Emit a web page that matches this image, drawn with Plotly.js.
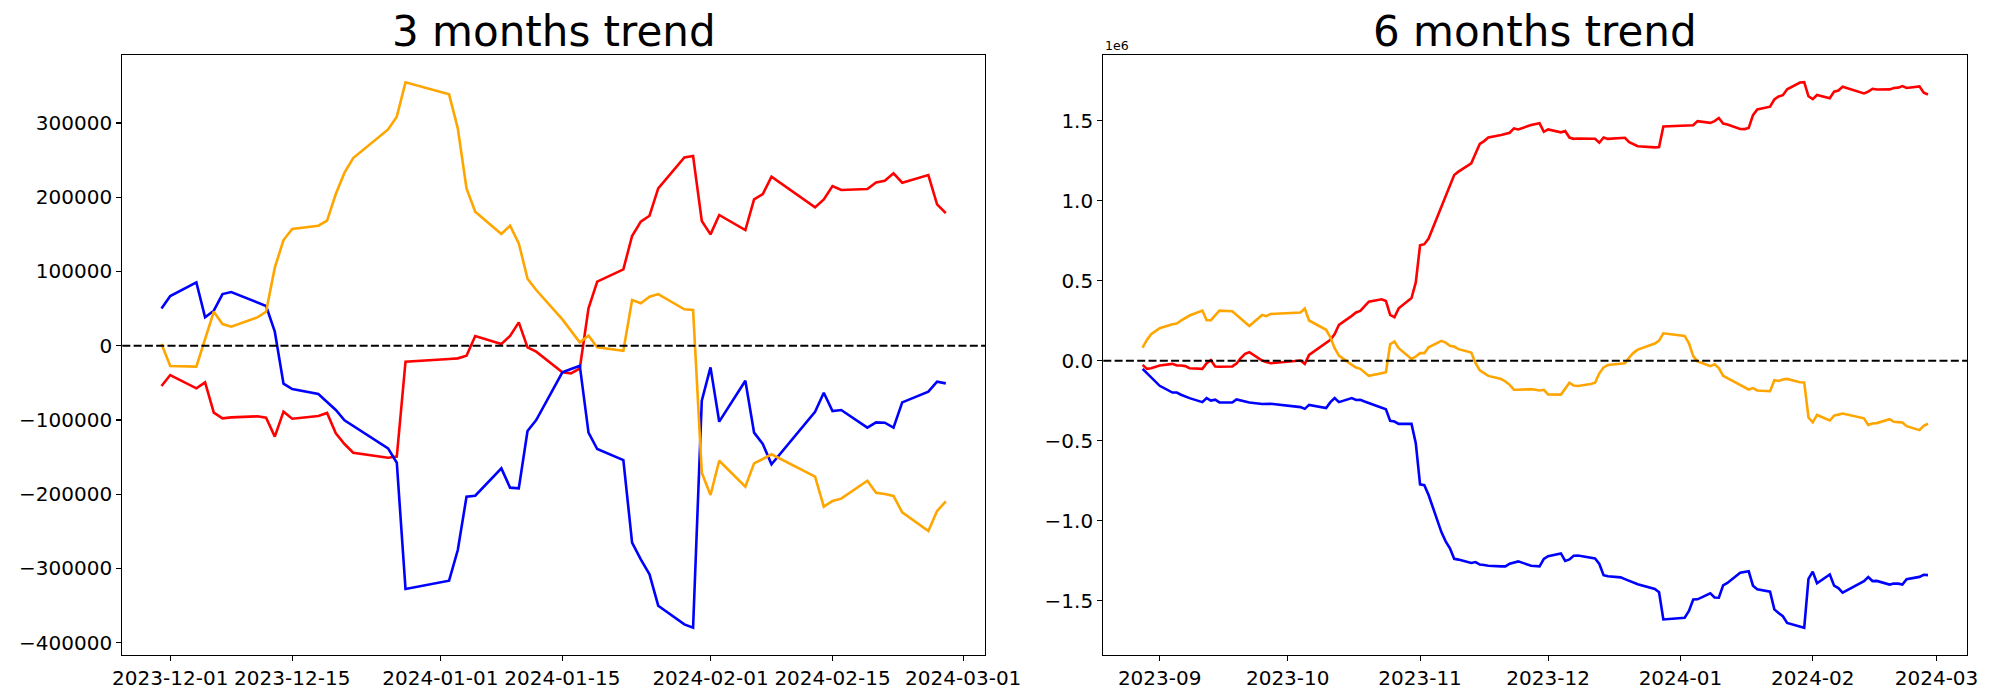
<!DOCTYPE html>
<html>
<head>
<meta charset="utf-8">
<script src="https://cdn.plot.ly/plotly-3.0.1.min.js"></script>
<style>html,body{margin:0;padding:0;background:#fff;}#chart{width:2000px;height:700px;}</style>
</head>
<body>
<div id="chart"></div>
<script>
// ---------- 3 months (values in KRW units as plotted) ----------
const dates3m = ['2023-11-30','2023-12-01','2023-12-04','2023-12-05','2023-12-06','2023-12-07','2023-12-08','2023-12-11','2023-12-12','2023-12-13','2023-12-14','2023-12-15','2023-12-18','2023-12-19','2023-12-20','2023-12-21','2023-12-22','2023-12-26','2023-12-27','2023-12-28','2024-01-02','2024-01-03','2024-01-04','2024-01-05','2024-01-08','2024-01-09','2024-01-10','2024-01-11','2024-01-12','2024-01-15','2024-01-16','2024-01-17','2024-01-18','2024-01-19','2024-01-22','2024-01-23','2024-01-24','2024-01-25','2024-01-26','2024-01-29','2024-01-30','2024-01-31','2024-02-01','2024-02-02','2024-02-05','2024-02-06','2024-02-07','2024-02-08','2024-02-13','2024-02-14','2024-02-15','2024-02-16','2024-02-19','2024-02-20','2024-02-21','2024-02-22','2024-02-23','2024-02-26','2024-02-27','2024-02-28'];

const red3m = [-54300,-39500,-57400,-49300,-90200,-97800,-96500,-95100,-96900,-122500,-88800,-98300,-94700,-90600,-118000,-132400,-144100,-150800,-149400,-21500,-17900,-17000,-13400,13100,2300,13100,31500,-2200,-8000,-35900,-37200,-30500,50300,86300,102900,147800,167100,175100,212000,253700,255500,168000,150000,176100,155800,197100,204300,227700,186400,197100,215100,209700,211100,220000,222300,232200,219600,229900,190400,178700];
const blue3m = [50300,66900,85300,38200,47200,69600,72300,58000,53500,18900,-51100,-58300,-65100,-75800,-86600,-100500,-108200,-138200,-157600,-327700,-316500,-275200,-203400,-202000,-165200,-191200,-192100,-114900,-100100,-35900,-31400,-26900,-117100,-139100,-154000,-265300,-287800,-308000,-350200,-375300,-379800,-74000,-29200,-102300,-47100,-117100,-132400,-159800,-88900,-63300,-88000,-86600,-110400,-103200,-103700,-110400,-76300,-61900,-48500,-50700];
const orange3m = [2300,-27300,-28200,10000,45800,29200,25600,38200,45800,105100,142400,157200,161700,168400,204300,233100,252800,291400,308500,354800,338600,292800,212000,180500,150500,161700,137900,90300,75000,35500,20200,4500,13500,-2200,-6700,61600,57100,66000,69600,49000,48100,-171000,-201100,-154900,-189900,-158500,-152600,-146300,-176400,-216800,-209200,-206000,-181800,-198000,-199700,-202400,-224500,-249600,-222700,-209700];

// ---------- 6 months (values in units of 1e6) ----------
const dates6mEarly = ['2023-08-28','2023-08-29','2023-08-30','2023-08-31','2023-09-01','2023-09-04','2023-09-05','2023-09-06','2023-09-07','2023-09-08','2023-09-11','2023-09-12','2023-09-13','2023-09-14','2023-09-15','2023-09-18','2023-09-19','2023-09-20','2023-09-21','2023-09-22','2023-09-25','2023-09-26','2023-09-27','2023-10-04','2023-10-05','2023-10-06','2023-10-10','2023-10-11','2023-10-12','2023-10-13','2023-10-16','2023-10-17','2023-10-18','2023-10-19','2023-10-20','2023-10-23','2023-10-24','2023-10-25','2023-10-26','2023-10-27','2023-10-30','2023-10-31','2023-11-01','2023-11-02','2023-11-03','2023-11-06','2023-11-07','2023-11-08','2023-11-09','2023-11-10','2023-11-13','2023-11-14','2023-11-15','2023-11-16','2023-11-17','2023-11-20','2023-11-21','2023-11-22','2023-11-23','2023-11-24','2023-11-27','2023-11-28','2023-11-29'];
const dates6m = dates6mEarly.concat(dates3m);

const red6m = [-0.025,-0.050,-0.046,-0.035,-0.029,-0.019,-0.029,-0.029,-0.033,-0.046,-0.050,-0.015,0.004,-0.035,-0.037,-0.035,-0.017,0.017,0.044,0.054,0.002,-0.008,-0.015,0.002,-0.019,0.037,0.110,0.131,0.167,0.225,0.281,0.302,0.312,0.343,0.370,0.385,0.374,0.287,0.272,0.328,0.392,0.490,0.722,0.729,0.764,0.963,1.030,1.099,1.161,1.182,1.234,1.296,1.355,1.373,1.396,1.411,1.419,1.425,1.452,1.446,1.473,1.477,1.484,
  1.431,1.446,1.428,1.436,1.395,1.387,1.389,1.390,1.388,1.363,1.396,1.387,1.390,1.394,1.367,1.353,1.341,1.334,1.336,1.464,1.467,1.468,1.472,1.498,1.487,1.498,1.517,1.483,1.477,1.449,1.448,1.455,1.535,1.571,1.588,1.633,1.652,1.660,1.697,1.739,1.741,1.653,1.635,1.661,1.641,1.682,1.689,1.713,1.671,1.682,1.700,1.695,1.696,1.705,1.707,1.717,1.705,1.715,1.675,1.664];
const blue6m = [-0.050,-0.077,-0.108,-0.133,-0.156,-0.198,-0.198,-0.212,-0.225,-0.233,-0.258,-0.233,-0.248,-0.243,-0.260,-0.260,-0.241,-0.248,-0.254,-0.260,-0.270,-0.270,-0.268,-0.289,-0.300,-0.275,-0.295,-0.258,-0.233,-0.258,-0.233,-0.245,-0.243,-0.254,-0.264,-0.291,-0.303,-0.375,-0.379,-0.394,-0.394,-0.514,-0.772,-0.777,-0.838,-1.070,-1.128,-1.171,-1.237,-1.242,-1.263,-1.257,-1.273,-1.276,-1.280,-1.284,-1.284,-1.267,-1.259,-1.253,-1.280,-1.284,-1.284,
  -1.238,-1.221,-1.203,-1.250,-1.241,-1.218,-1.216,-1.230,-1.235,-1.269,-1.339,-1.346,-1.353,-1.364,-1.375,-1.389,-1.396,-1.426,-1.446,-1.616,-1.605,-1.563,-1.491,-1.490,-1.453,-1.479,-1.480,-1.403,-1.388,-1.324,-1.319,-1.315,-1.405,-1.427,-1.442,-1.553,-1.576,-1.596,-1.638,-1.663,-1.668,-1.362,-1.317,-1.390,-1.335,-1.405,-1.420,-1.448,-1.377,-1.351,-1.376,-1.375,-1.398,-1.391,-1.392,-1.398,-1.364,-1.350,-1.337,-1.339];
const orange6m = [0.083,0.131,0.167,0.187,0.204,0.229,0.233,0.252,0.270,0.283,0.314,0.254,0.254,0.287,0.314,0.310,0.287,0.262,0.235,0.218,0.287,0.279,0.293,0.302,0.327,0.252,0.194,0.146,0.079,0.033,-0.025,-0.042,-0.050,-0.071,-0.094,-0.077,-0.071,0.104,0.121,0.079,0.012,0.027,0.048,0.048,0.085,0.125,0.114,0.094,0.089,0.073,0.052,-0.015,-0.060,-0.077,-0.094,-0.114,-0.129,-0.150,-0.181,-0.181,-0.177,-0.181,-0.185,
  -0.181,-0.210,-0.211,-0.173,-0.137,-0.154,-0.157,-0.145,-0.137,-0.078,-0.041,-0.026,-0.021,-0.015,0.021,0.050,0.070,0.108,0.126,0.172,0.156,0.110,0.029,-0.003,-0.033,-0.021,-0.045,-0.093,-0.108,-0.148,-0.163,-0.179,-0.170,-0.185,-0.190,-0.121,-0.126,-0.117,-0.113,-0.134,-0.135,-0.354,-0.384,-0.338,-0.373,-0.342,-0.336,-0.329,-0.359,-0.400,-0.392,-0.389,-0.365,-0.381,-0.383,-0.385,-0.408,-0.433,-0.406,-0.393];

// ---------- ticks & titles ----------
const leftXTicks = ['2023-12-01','2023-12-15','2024-01-01','2024-01-15','2024-02-01','2024-02-15','2024-03-01'];
const leftYTicks = [-400000,-300000,-200000,-100000,0,100000,200000,300000];
const rightXTicks = ['2023-09-01','2023-10-01','2023-11-01','2023-12-01','2024-01-01','2024-02-01','2024-03-01'];
const rightYTicks = [-1.5,-1.0,-0.5,0,0.5,1.0,1.5];
const titles = ['3 months trend','6 months trend'];
const offsetLabel = '1e6';

const FONT = 'DejaVu Sans, Verdana, sans-serif';
const colors = {red:'#ff0000', blue:'#0000ff', orange:'#ffa500'};
const lw = 2.6;

function tr(x, y, c, xa, ya){
  return {x:x, y:y, type:'scatter', mode:'lines', line:{color:c, width:lw},
          xaxis:xa, yaxis:ya, hoverinfo:'skip', showlegend:false};
}

const data = [
  tr(dates3m, red3m, colors.red, 'x', 'y'),
  tr(dates3m, blue3m, colors.blue, 'x', 'y'),
  tr(dates3m, orange3m, colors.orange, 'x', 'y'),
  tr(dates6m, red6m, colors.red, 'x2', 'y2'),
  tr(dates6m, blue6m, colors.blue, 'x2', 'y2'),
  tr(dates6m, orange6m, colors.orange, 'x2', 'y2')
];

const yDom = [1 - 655/700, 1 - 55/700];
const axCommon = {
  showline:true, linecolor:'black', linewidth:1.1, mirror:true,
  ticks:'outside', ticklen:5, tickwidth:1.1, tickcolor:'black',
  showgrid:false, zeroline:false,
  tickfont:{family:FONT, size:20, color:'black'}
};

const layout = {
  width:2000, height:700,
  margin:{l:0, r:0, t:0, b:0, pad:0},
  paper_bgcolor:'white', plot_bgcolor:'white',
  showlegend:false,
  font:{family:FONT, color:'black'},
  xaxis: Object.assign({}, axCommon, {
    domain:[122.3/2000, 985/2000], anchor:'y', type:'date',
    range:['2023-11-25 12:00','2024-03-03 12:00'],
    tickmode:'array', tickvals:leftXTicks, ticktext:leftXTicks
  }),
  yaxis: Object.assign({}, axCommon, {
    domain:yDom, anchor:'x',
    range:[-416600, 391600],
    tickmode:'array', tickvals:leftYTicks, tickformat:'d'
  }),
  xaxis2: Object.assign({}, axCommon, {
    domain:[1103.3/2000, 1967.3/2000], anchor:'y2', type:'date',
    range:['2023-08-18 19:00','2024-03-08 05:00'],
    tickmode:'array', tickvals:rightXTicks, tickformat:'%Y-%m'
  }),
  yaxis2: Object.assign({}, axCommon, {
    domain:yDom, anchor:'x2',
    range:[-1.838, 1.911],
    tickmode:'array', tickvals:rightYTicks, tickformat:'.1f'
  }),
  shapes:[
    {type:'line', xref:'x domain', yref:'y', x0:0, x1:1, y0:0, y1:0, layer:'above',
     line:{color:'black', width:2, dash:'8px,3.3px'}},
    {type:'line', xref:'x2 domain', yref:'y2', x0:0, x1:1, y0:0, y1:0, layer:'above',
     line:{color:'black', width:2, dash:'8px,3.3px'}}
  ],
  annotations:[
    {text:titles[0], xref:'paper', yref:'paper', x:553.7/2000, y:0.917, xanchor:'center', yanchor:'bottom',
     showarrow:false, font:{family:FONT, size:42, color:'black'}},
    {text:titles[1], xref:'paper', yref:'paper', x:1535.3/2000, y:0.917, xanchor:'center', yanchor:'bottom',
     showarrow:false, font:{family:FONT, size:42, color:'black'}},
    {text:offsetLabel, xref:'paper', yref:'paper', x:1103.3/2000, y:0.9215, xanchor:'left', yanchor:'bottom',
     showarrow:false, font:{family:FONT, size:12.5, color:'black'}}
  ]
};

Plotly.newPlot('chart', data, layout, {staticPlot:true, displayModeBar:false});
</script>
</body>
</html>
